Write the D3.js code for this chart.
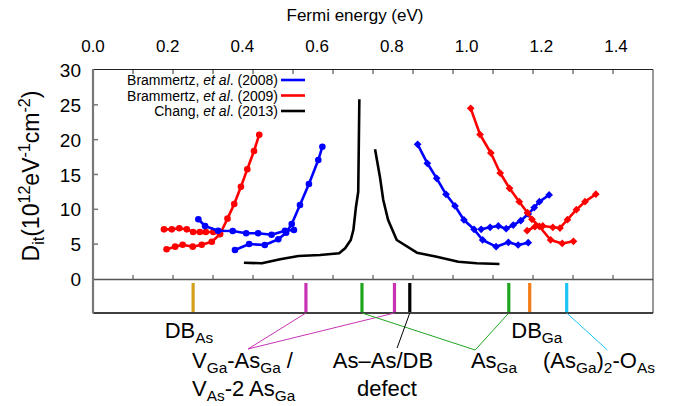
<!DOCTYPE html>
<html>
<head>
<meta charset="utf-8">
<script src="https://cdn.jsdelivr.net/npm/d3@7"></script>
<style>
body { margin: 0; background: #fff; }
text { font-family: "Liberation Sans", Arial, Helvetica, sans-serif; }
</style>
</head>
<body>
<div id="vis"></div>
<script>
// series: [Fermi energy (eV), Dit (1e12 eV-1 cm-2)]
var bram08a = [[0.282,8.57],[0.300,7.61],[0.335,6.93],[0.374,6.89],[0.410,6.56],[0.442,6.56],[0.478,6.36],[0.514,6.93],[0.538,7.03]];
var bram08b = [[0.380,4.16],[0.418,5.02],[0.460,4.88],[0.496,5.70],[0.517,6.65],[0.532,7.89],[0.554,10.62],[0.578,13.64],[0.603,17.08],[0.614,18.99]];
var bram09a = [[0.190,7.13],[0.211,7.13],[0.231,7.28],[0.251,7.13],[0.268,6.75],[0.286,6.75],[0.302,6.75],[0.322,6.75],[0.340,6.56]];
var bram09b = [[0.197,4.26],[0.220,4.64],[0.240,4.92],[0.267,4.64],[0.291,4.92],[0.318,5.35],[0.340,6.42],[0.360,8.66],[0.378,10.77],[0.396,13.25],[0.413,15.75],[0.431,18.37],[0.445,20.71]];
var bram08c = [[0.869,19.33],[0.895,16.61],[0.920,14.45],[0.945,12.16],[0.969,10.48],[0.993,8.47],[1.020,7.13],[1.043,5.60],[1.079,4.64],[1.112,5.27],[1.138,4.88],[1.165,5.21]];
var bram08d = [[1.039,7.13],[1.063,7.42],[1.085,7.61],[1.106,7.22],[1.125,7.75],[1.145,8.37],[1.165,9.33],[1.181,10.26],[1.195,11.10],[1.221,12.06]];
var bram09c = [[1.011,24.50],[1.036,20.74],[1.065,18.09],[1.090,15.21],[1.115,13.02],[1.141,11.10],[1.163,9.52],[1.175,8.57],[1.195,7.54],[1.225,5.60],[1.256,5.10],[1.286,5.41]];
var bram09d = [[1.162,6.93],[1.183,7.51],[1.204,7.61],[1.231,7.42],[1.250,7.32],[1.270,8.51],[1.294,9.95],[1.317,11.10],[1.346,12.17]];
var chang13a = [[0.404,2.34],[0.452,2.25],[0.501,2.83],[0.550,3.30],[0.608,3.44],[0.659,3.69],[0.675,4.41],[0.690,5.60],[0.697,7.03],[0.704,10.38],[0.710,12.53],[0.713,25.79]];
var chang13b = [[0.755,18.62],[0.768,14.69],[0.777,11.34],[0.790,8.47],[0.813,5.60],[0.867,3.78],[0.920,3.20],[0.978,2.48],[1.027,2.25],[1.088,2.15]];

var legendNames = ["Brammertz, et al. (2008)", "Brammertz, et al. (2009)", "Chang, et al. (2013)"];
var legendColors = ["#0000ff", "#ff0000", "#000000"];

var xTicks = [0, 0.2, 0.4, 0.6, 0.8, 1.0, 1.2, 1.4];
var yTicks = [0, 5, 10, 15, 20, 25, 30];

// defect levels in the lower strip
var defectE = [0.268, 0.570, 0.720, 0.807, 0.848, 1.113, 1.169, 1.268];
var defectC = ["#d4a01c", "#c833b4", "#1fa51f", "#c833b4", "#000000", "#1fa51f", "#f47c18", "#1cc4f4"];

var width = 684, height = 406;
var x = d3.scaleLinear().domain([0, 1.4]).range([93, 616]);
var y = d3.scaleLinear().domain([0, 30]).range([279, 70]);
var frameRight = 653;
var stripBottom = 313;
var tickPos = d3.scaleLinear().domain([0, 14]).range([93, frameRight]);

var svg = d3.select("#vis").append("svg")
  .attr("width", width)
  .attr("height", height);

// rich text with sub/superscripts
function rich(g, px, py, parts, anchor, size) {
  var t = g.append("text")
    .attr("x", px).attr("y", py)
    .attr("text-anchor", anchor || "start")
    .style("font-size", size + "px")
    .attr("fill", "#000");
  var shift = 0;
  parts.forEach(function(p) {
    var s = p[1] || "n";
    var target = s === "sub" ? size * 0.22 : (s === "sup" ? -size * 0.38 : 0);
    t.append("tspan")
      .attr("dy", target - shift)
      .style("font-size", s === "n" ? size + "px" : (size * 0.7) + "px")
      .text(p[0]);
    shift = target;
  });
  return t;
}

// top axis title and labels
svg.append("text")
  .attr("x", 355).attr("y", 21)
  .attr("text-anchor", "middle")
  .style("font-size", "17px")
  .text("Fermi energy (eV)");

svg.selectAll(".xl").data(xTicks).enter().append("text")
  .attr("x", function(d) { return x(d); })
  .attr("y", 52)
  .attr("text-anchor", "middle")
  .style("font-size", "17px")
  .text(function(d) { return d3.format(".1f")(d); });

// y labels
svg.selectAll(".yl").data(yTicks).enter().append("text")
  .attr("x", 81)
  .attr("y", function(d) { return y(d) + 7; })
  .attr("text-anchor", "end")
  .style("font-size", "19px")
  .text(function(d) { return d; });

var yt = svg.append("g").attr("transform", "translate(39,176) rotate(-90)");
rich(yt, 0, 0, [["D"], ["it", "sub"], ["(10"], ["12", "sup"], ["eV"], ["-1", "sup"], ["cm"], ["-2", "sup"], [")"]], "middle", 23);

// frame
svg.append("line").attr("x1", 93).attr("x2", frameRight).attr("y1", 69.5).attr("y2", 69.5)
  .attr("stroke", "#222").attr("stroke-width", 1.2);
svg.append("line").attr("x1", 93).attr("x2", frameRight).attr("y1", 279.5).attr("y2", 279.5)
  .attr("stroke", "#555").attr("stroke-width", 1.4);
svg.append("line").attr("x1", 93).attr("x2", frameRight).attr("y1", stripBottom).attr("y2", stripBottom)
  .attr("stroke", "#000").attr("stroke-width", 1.4);
svg.append("line").attr("x1", frameRight).attr("x2", frameRight).attr("y1", 69.5).attr("y2", stripBottom)
  .attr("stroke", "#333").attr("stroke-width", 1);
svg.append("line").attr("x1", 93).attr("x2", 93).attr("y1", 69).attr("y2", stripBottom + 0.5)
  .attr("stroke", "#777").attr("stroke-width", 2.2);

// frame ticks
var tk = d3.range(1, 14);
svg.selectAll(".tt").data(tk).enter().append("line")
  .attr("x1", function(d) { return tickPos(d); }).attr("x2", function(d) { return tickPos(d); })
  .attr("y1", 70).attr("y2", 74)
  .attr("stroke", "#777").attr("stroke-width", 1.5);
svg.selectAll(".tb").data(tk).enter().append("line")
  .attr("x1", function(d) { return tickPos(d); }).attr("x2", function(d) { return tickPos(d); })
  .attr("y1", 279).attr("y2", 275)
  .attr("stroke", "#777").attr("stroke-width", 1.5);
svg.selectAll(".ty").data(yTicks.slice(1, 6)).enter().append("line")
  .attr("x1", 93).attr("x2", 98)
  .attr("y1", function(d) { return y(d); }).attr("y2", function(d) { return y(d); })
  .attr("stroke", "#777").attr("stroke-width", 1.5);

// curves
var line = d3.line().x(function(d) { return x(d[0]); }).y(function(d) { return y(d[1]); });

function series(data, color, marker) {
  svg.append("path").datum(data)
    .attr("d", line)
    .attr("fill", "none")
    .attr("stroke", color)
    .attr("stroke-width", 2.6)
    .attr("stroke-linejoin", "round");
  if (marker === "circle") {
    svg.selectAll(null).data(data).enter().append("circle")
      .attr("cx", function(d) { return x(d[0]); })
      .attr("cy", function(d) { return y(d[1]); })
      .attr("r", 3.3)
      .attr("fill", color);
  } else if (marker === "diamond") {
    var sym = d3.symbol().type(d3.symbolSquare).size(30);
    svg.selectAll(null).data(data).enter().append("path")
      .attr("d", sym)
      .attr("transform", function(d) { return "translate(" + x(d[0]) + "," + y(d[1]) + ") rotate(45)"; })
      .attr("fill", color);
  }
}

series(bram09a, "#ff0000", "circle");
series(bram09b, "#ff0000", "circle");
series(bram08a, "#0000ff", "circle");
series(bram08b, "#0000ff", "circle");
series(chang13a, "#000000");
series(chang13b, "#000000");
series(bram08c, "#0000ff", "diamond");
series(bram08d, "#0000ff", "diamond");
series(bram09c, "#ff0000", "diamond");
series(bram09d, "#ff0000", "diamond");

// legend
var lg = svg.append("g");
legendNames.forEach(function(n, i) {
  var ly = 80 + i * 15.5;
  var parts = n.split("et al.");
  var t = lg.append("text")
    .attr("x", 278).attr("y", ly + 5)
    .attr("text-anchor", "end")
    .style("font-size", "14px");
  t.append("tspan").text(parts[0]);
  t.append("tspan").style("font-style", "italic").text("et al");
  t.append("tspan").text("." + parts[1]);
  lg.append("line")
    .attr("x1", 281).attr("x2", 305)
    .attr("y1", ly).attr("y2", ly)
    .attr("stroke", legendColors[i]).attr("stroke-width", 2.6);
});

// defect strip
svg.selectAll(".df").data(defectE).enter().append("line")
  .attr("x1", function(d) { return x(d); }).attr("x2", function(d) { return x(d); })
  .attr("y1", 283).attr("y2", 312)
  .attr("stroke", function(d, i) { return defectC[i]; })
  .attr("stroke-width", 3.2);

// connectors from defect bars to labels
var links = [
  [1, 0.415, 349], [3, 0.415, 349],
  [2, 1.023, 350], [5, 1.023, 350],
  [4, 0.814, 348],
  [7, 1.377, 350]
];
svg.selectAll(".lk").data(links).enter().append("line")
  .attr("x1", function(d) { return x(defectE[d[0]]); })
  .attr("y1", stripBottom)
  .attr("x2", function(d) { return x(d[1]); })
  .attr("y2", function(d) { return d[2]; })
  .attr("stroke", function(d) { return defectC[d[0]]; })
  .attr("stroke-width", 1);

// defect labels
var fs = 22;
rich(svg, x(0.257), 338, [["DB"], ["As", "sub"]], "middle", fs);
rich(svg, x(1.188), 338, [["DB"], ["Ga", "sub"]], "middle", fs);
rich(svg, 192, 368, [["V"], ["Ga", "sub"], ["-As"], ["Ga", "sub"], [" /"]], "start", fs);
rich(svg, 192, 396, [["V"], ["As", "sub"], ["-2 As"], ["Ga", "sub"]], "start", fs);
rich(svg, 383, 368, [["As\u2013As/DB"]], "middle", fs);
rich(svg, 387, 396, [["defect"]], "middle", fs);
rich(svg, 494, 368, [["As"], ["Ga", "sub"]], "middle", fs);
rich(svg, 543, 368, [["(As"], ["Ga", "sub"], [")"], ["2", "sub"], ["-O"], ["As", "sub"]], "start", fs);
</script>
</body>
</html>
